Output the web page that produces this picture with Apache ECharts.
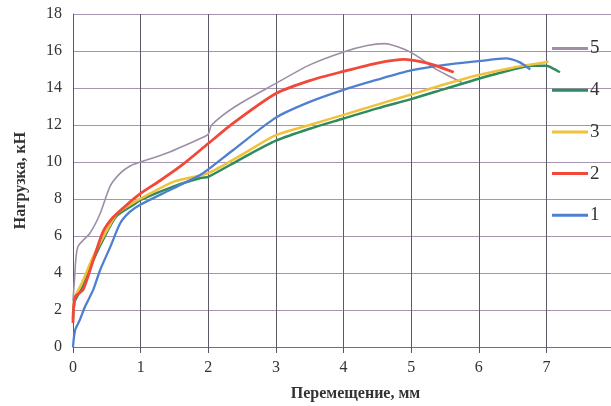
<!DOCTYPE html>
<html>
<head>
<meta charset="utf-8">
<script src="https://cdn.jsdelivr.net/npm/echarts@6/dist/echarts.min.js"></script>
<style>
  html, body { margin: 0; padding: 0; background: #fff; }
  #chart { width: 611px; height: 406px; }
</style>
</head>
<body>
<div id="chart"></div>
<script>
/* ── данные: [перемещение, мм ; нагрузка, кН] ── */
const seriesNames = ["5", "4", "3", "2", "1"];

const curve1 = [
  [0, 0], [0.03, 0.9], [0.1, 1.45], [0.18, 2.2], [0.3, 3.1], [0.4, 4.15],
  [0.55, 5.4], [0.7, 6.7], [0.84, 7.3], [1.0, 7.7], [1.44, 8.5], [1.88, 9.3],
  [2.0, 9.6], [2.37, 10.65], [3.0, 12.4], [3.5, 13.25], [4.0, 13.9],
  [4.5, 14.45], [5.0, 14.95], [5.5, 15.25], [6.0, 15.45], [6.4, 15.6],
  [6.6, 15.4], [6.76, 15.0],
];
const curve2 = [
  [0, 1.3], [0.03, 2.7], [0.15, 3.1], [0.3, 4.7], [0.44, 6.2], [0.59, 7.0],
  [0.8, 7.7], [1.0, 8.3], [1.29, 9.0], [1.6, 9.8], [2.0, 11.0], [2.37, 12.1],
  [3.0, 13.7], [3.5, 14.4], [4.0, 14.9], [4.5, 15.35], [4.9, 15.55],
  [5.1, 15.45], [5.33, 15.25], [5.63, 14.85],
];
const curve3 = [
  [0, 1.8], [0.03, 2.7], [0.13, 3.45], [0.3, 4.9], [0.5, 6.3], [0.65, 7.2],
  [0.89, 7.8], [1.04, 8.1], [1.5, 8.95], [2.0, 9.4], [2.5, 10.4],
  [3.0, 11.45], [3.5, 12.0], [4.0, 12.55], [4.5, 13.1], [5.0, 13.65],
  [5.5, 14.2], [6.0, 14.7], [6.5, 15.1], [7.0, 15.4], [7.03, 15.45],
];
const curve4 = [
  [0, 1.5], [0.03, 2.5], [0.15, 3.3], [0.3, 4.7], [0.5, 6.2], [0.65, 7.1],
  [0.9, 7.7], [1.0, 7.95], [1.5, 8.7], [1.9, 9.15], [2.0, 9.2], [2.5, 10.2],
  [3.0, 11.15], [3.5, 11.8], [4.0, 12.35], [4.5, 12.9], [5.0, 13.4],
  [5.5, 13.95], [6.0, 14.5], [6.5, 15.0], [6.8, 15.2], [7.0, 15.2],
  [7.1, 15.05], [7.2, 14.85],
];
const curve5 = [
  [0, 2.5], [0.02, 3.5], [0.07, 5.4], [0.25, 6.15], [0.4, 7.2], [0.55, 8.7],
  [0.7, 9.4], [0.85, 9.8], [1.0, 10.0], [1.4, 10.5], [1.9, 11.3], [2.0, 11.5],
  [2.05, 12.0], [2.4, 13.0], [3.0, 14.25], [3.5, 15.25], [4.0, 15.95],
  [4.35, 16.3], [4.6, 16.4], [4.9, 16.1], [5.1, 15.7], [5.33, 15.1],
  [5.53, 14.7], [5.75, 14.3],
];

const xTicks = [0, 1, 2, 3, 4, 5, 6, 7];
const yTicks = [0, 2, 4, 6, 8, 10, 12, 14, 16, 18];

const COLORS = {
  "5": "#9e8ea6",
  "4": "#2f8a5c",
  "3": "#f0c23c",
  "2": "#f2483a",
  "1": "#4f80cf",
};
const WIDTHS = { "5": 1.6, "4": 2.5, "3": 2.5, "2": 2.8, "1": 2.3 };
const FONT = "'Liberation Serif', 'DejaVu Serif', serif";

const chart = echarts.init(document.getElementById("chart"));

const dataByName = { "1": curve1, "2": curve2, "3": curve3, "4": curve4, "5": curve5 };

// порядок отрисовки: 5 снизу, затем 4, 3, 1, 2 сверху
const drawOrder = ["5", "4", "3", "1", "2"];
const series = drawOrder.map((n, i) => ({
  name: n,
  type: "line",
  data: dataByName[n],
  symbol: "none",
  smooth: 0.25,
  z: 3 + i,
  lineStyle: { color: COLORS[n], width: WIDTHS[n] },
  itemStyle: { color: COLORS[n] },
}));

chart.setOption({
  backgroundColor: "#ffffff",
  animation: false,
  grid: { left: 73, right: -3, top: 14, bottom: 59, outerBoundsMode: "none" },
  legend: {
    data: seriesNames.map((n) => ({ name: n, icon: "rect", itemStyle: { color: COLORS[n] } })),
    orient: "vertical",
    left: 547,
    top: 34,
    itemWidth: 36,
    itemHeight: 3,
    itemGap: 22.7,
    textStyle: { fontFamily: FONT, fontSize: 19, color: "#333", lineHeight: 19, padding: [0, 0, 0, -3] },
  },
  xAxis: {
    type: "value",
    min: 0,
    max: 8,
    interval: 1,
    axisLine: { show: true, onZero: false, lineStyle: { color: "#77707c", width: 1 } },
    axisTick: { show: true, length: 6, inside: false, lineStyle: { color: "#5a5560" } },
    axisLabel: {
      fontFamily: FONT,
      fontSize: 16,
      color: "#333",
      margin: 13,
      formatter: (v) => (xTicks.includes(v) ? String(v) : ""),
    },
    splitLine: { show: true, lineStyle: { color: "#5e5964", width: 1 } },
    name: "Перемещение, мм",
    nameLocation: "middle",
    nameGap: 39,
    nameTextStyle: { fontFamily: FONT, fontSize: 16, fontWeight: "bold", color: "#333", padding: [0, 0, 0, 24] },
  },
  yAxis: {
    type: "value",
    min: 0,
    max: 18,
    interval: 2,
    axisLine: { show: true, lineStyle: { color: "#5e5964", width: 1 } },
    axisTick: { show: false },
    axisLabel: {
      fontFamily: FONT,
      fontSize: 16,
      color: "#333",
      margin: 11,
      formatter: (v) => (yTicks.includes(v) ? String(v) : ""),
    },
    splitLine: { show: true, lineStyle: { color: "#a595b0", width: 1 } },
    name: "Нагрузка, кН",
    nameLocation: "middle",
    nameGap: 44,
    nameTextStyle: { fontFamily: FONT, fontSize: 16, fontWeight: "bold", color: "#333" },
  },
  series,
});
</script>
</body>
</html>
